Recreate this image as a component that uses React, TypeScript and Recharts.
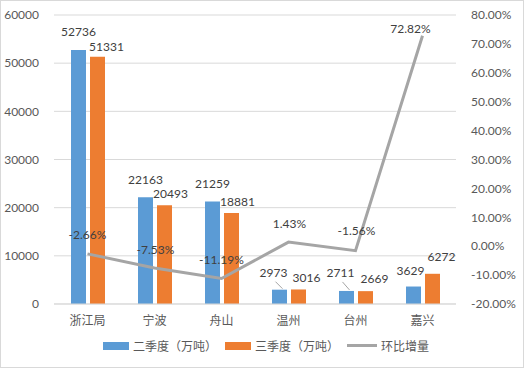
import {
  ComposedChart,
  Bar,
  Line,
  XAxis,
  YAxis,
  CartesianGrid,
  Legend,
  LabelList,
} from 'recharts'

// ── Data ───────────────────────────────────────────────────────────────────────

const CATEGORIES = ['浙江局', '宁波', '舟山', '温州', '台州', '嘉兴']
const Q2 = [52736, 22163, 21259, 2973, 2711, 3629]
const Q3 = [51331, 20493, 18881, 3016, 2669, 6272]
const QOQ = [-0.0266, -0.0753, -0.1119, 0.0143, -0.0156, 0.7282]

const LEFT_TICKS = [0, 10000, 20000, 30000, 40000, 50000, 60000]
const RIGHT_TICKS = [-0.2, -0.1, 0, 0.1, 0.2, 0.3, 0.4, 0.5, 0.6, 0.7, 0.8]

const SERIES_Q2 = '二季度（万吨）'
const SERIES_Q3 = '三季度（万吨）'
const SERIES_QOQ = '环比增量'

const rows = CATEGORIES.map((name, i) => ({ name, q2: Q2[i], q3: Q3[i], qoq: QOQ[i] }))

// label nudges (Excel auto placement), [dx, dy] from bar top centre / point
const Q2_LABEL_NUDGE = [[0, -17], [0, -16], [0, -17], [-6, -16], [-6, -17], [-3, -15]]
const Q3_LABEL_NUDGE = [[9, -9], [6, -10], [6, -10], [8, -11], [9, -11], [9, -16]]
const QOQ_LABEL_NUDGE = [[0, -18], [1, -17], [0, -18], [1, -17], [1, -19], [-12, -6]]
const LEADER = [false, false, false, true, true, false]

const BLUE = '#5B9BD5'
const ORANGE = '#ED7D31'
const GREY = '#A5A5A5'
const GRID = '#D9D9D9'
const NUM_FONT = 'Lato, "Noto Sans CJK SC", sans-serif'
const CJK_FONT = '"Noto Sans CJK SC", sans-serif'

// ── Labels ─────────────────────────────────────────────────────────────────────

function barLabel(nudge: number[][], leader: boolean) {
  // eslint-disable-next-line @typescript-eslint/no-explicit-any
  return (props: any) => {
    const { x, y, width, value, index } = props
    const [dx, dy] = nudge[index]
    const cx = x + width / 2
    const tx = cx + dx
    const ty = y + dy
    return (
      <g>
        {leader && LEADER[index] && (
          <line x1={tx + 2} y1={ty + 8} x2={cx + 3} y2={y - 1} stroke={GREY} strokeWidth={1} />
        )}
        <text x={tx} y={ty} textAnchor="middle" dominantBaseline="middle"
          fill="#404040" fontSize={12} fontFamily={NUM_FONT}>
          {value}
        </text>
      </g>
    )
  }
}

// eslint-disable-next-line @typescript-eslint/no-explicit-any
function lineLabel(props: any) {
  const { x, y, value, index } = props
  const [dx, dy] = QOQ_LABEL_NUDGE[index]
  return (
    <text x={x + dx} y={y + dy} textAnchor="middle" dominantBaseline="middle"
      fill="#404040" fontSize={12} fontFamily={NUM_FONT}>
      {(value * 100).toFixed(2)}%
    </text>
  )
}

function ChartLegend() {
  const item = (swatch: React.ReactNode, label: string) => (
    <div style={{ display: 'flex', alignItems: 'center', gap: 4 }}>
      {swatch}
      <span style={{ fontSize: 12, color: '#595959', fontFamily: CJK_FONT }}>{label}</span>
    </div>
  )
  return (
    <div style={{ display: 'flex', justifyContent: 'center', gap: 8, paddingTop: 3, paddingLeft: 8 }}>
      {item(<div style={{ width: 26, height: 8, background: BLUE }} />, SERIES_Q2)}
      {item(<div style={{ width: 26, height: 8, background: ORANGE }} />, SERIES_Q3)}
      {item(<div style={{ width: 30, height: 3, background: GREY }} />, SERIES_QOQ)}
    </div>
  )
}

// ── Component ──────────────────────────────────────────────────────────────────

export default function App() {
  return (
    <div style={{ width: 524, height: 368, position: 'relative', background: '#fff' }}>
      <style>{'body{margin:0}'}</style>
      <div style={{
        position: 'absolute', left: 0, top: 0, width: 522, height: 366,
        border: '1px solid #D9D9D9', pointerEvents: 'none',
      }} />
      <ComposedChart
        width={524}
        height={368}
        data={rows}
        margin={{ top: 15, right: 0, bottom: 0, left: 0 }}
        barSize={15}
        barGap={4}
      >
        <CartesianGrid yAxisId="left" vertical={false} stroke={GRID} />
        <XAxis
          dataKey="name"
          height={30}
          tickLine={false}
          axisLine={{ stroke: GRID }}
          tick={{ fill: '#595959', fontSize: 12, fontFamily: CJK_FONT }}
          tickMargin={6}
        />
        <YAxis
          yAxisId="left"
          width={54}
          domain={[0, 60000]}
          ticks={LEFT_TICKS}
          tickLine={false}
          axisLine={false}
          tickMargin={9}
          tick={{ fill: '#595959', fontSize: 12, fontFamily: NUM_FONT }}
        />
        <YAxis
          yAxisId="right"
          orientation="right"
          width={68}
          domain={[-0.2, 0.8]}
          ticks={RIGHT_TICKS}
          tickFormatter={(v: number) => `${(v * 100).toFixed(2)}%`}
          tickLine={false}
          axisLine={false}
          tickMargin={9}
          tick={{ fill: '#595959', fontSize: 12, fontFamily: NUM_FONT }}
        />
        <Legend verticalAlign="bottom" height={34} content={<ChartLegend />} />
        <Bar yAxisId="left" dataKey="q2" name={SERIES_Q2} fill={BLUE} isAnimationActive={false}>
          <LabelList dataKey="q2" content={barLabel(Q2_LABEL_NUDGE, true)} />
        </Bar>
        <Bar yAxisId="left" dataKey="q3" name={SERIES_Q3} fill={ORANGE} isAnimationActive={false}>
          <LabelList dataKey="q3" content={barLabel(Q3_LABEL_NUDGE, false)} />
        </Bar>
        <Line
          yAxisId="right"
          dataKey="qoq"
          name={SERIES_QOQ}
          stroke={GREY}
          strokeWidth={3}
          dot={false}
          isAnimationActive={false}
        >
          <LabelList dataKey="qoq" content={lineLabel} />
        </Line>
      </ComposedChart>
    </div>
  )
}
